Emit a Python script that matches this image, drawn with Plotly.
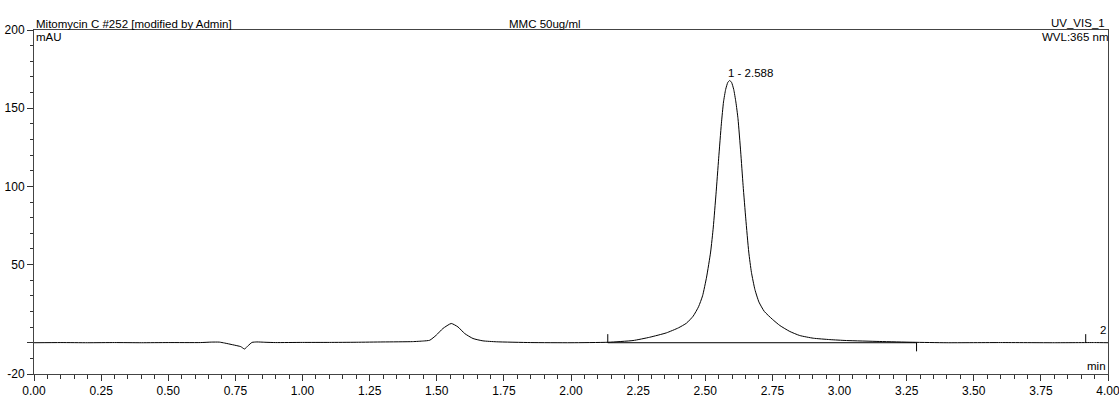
import plotly.graph_objects as go

# ---- data ----
time_min = [0.00, 0.10, 0.20, 0.30, 0.40, 0.50, 0.62, 0.66, 0.69, 0.71, 0.74, 0.77, 0.784,
            0.798, 0.812, 0.83, 0.86, 0.90, 1.00, 1.10, 1.20, 1.30, 1.41, 1.45, 1.474, 1.498,
            1.523, 1.554, 1.579, 1.604, 1.635, 1.672, 1.722, 1.85, 2.00, 2.138, 2.231,
            2.293, 2.355, 2.400, 2.430, 2.455, 2.475, 2.490, 2.505, 2.520, 2.530, 2.540,
            2.550, 2.560, 2.568, 2.576, 2.584, 2.591, 2.598, 2.606, 2.614, 2.622, 2.632,
            2.641, 2.651, 2.662, 2.672, 2.685, 2.700, 2.720, 2.750, 2.778, 2.815, 2.852,
            2.902, 2.964, 3.026, 3.150, 3.273, 3.40, 3.60, 3.80, 3.95, 4.00]
signal_mau = [0.0, 0.1, 0.0, 0.1, 0.0, 0.1, 0.1, 0.4, 0.4, -0.2, -1.3, -2.5, -4.0,
              -1.8, 0.2, 0.5, 0.3, 0.1, 0.2, 0.2, 0.3, 0.5, 0.7, 1.1, 1.6, 4.8,
              9.1, 12.3, 10.1, 5.9, 2.7, 1.2, 0.6, 0.1, 0.0, 0.3, 1.4,
              3.5, 6.3, 9.5, 12.5, 17.0, 23.0, 30.0, 42.0, 58.0, 74.0, 95.0,
              118.0, 140.0, 154.0, 162.0, 166.5, 167.7, 166.5, 162.0, 154.0, 143.2, 122.0,
              100.5, 79.2, 58.0, 45.0, 34.0, 26.0, 20.0, 15.0, 11.0, 7.2, 4.6,
              2.9, 2.0, 1.4, 0.8, 0.3, 0.0, 0.1, 0.0, 0.1, 0.0]

peak_number = [1]
peak_rt = [2.588]
peak_height = [167.7]
delimiter_t = [2.137, 3.287, 3.917]
delimiter_dir = [1, -1, 1]
baseline_t = [2.137, 3.287]
baseline_v = [0.0, 0.0]

x_tickvals = [i * 0.25 for i in range(17)]
y_tickvals = [-20, 0, 50, 100, 150, 200]
y_ticktext = ["-20", "", "50", "100", "150", "200"]

FONT = "Liberation Sans, Arial, sans-serif"
fs_tick = 12
fs_text = 11.5

fig = go.Figure()
fig.add_trace(go.Scatter(x=time_min, y=signal_mau, mode="lines",
                         line=dict(color="black", width=1, shape="spline", smoothing=0.5),
                         hoverinfo="skip", showlegend=False))
fig.add_trace(go.Scatter(x=baseline_t, y=baseline_v, mode="lines",
                         line=dict(color="black", width=1), showlegend=False, hoverinfo="skip"))
dx, dy = [], []
for t, d in zip(delimiter_t, delimiter_dir):
    dx += [t, t, None]
    dy += [0, 5.5 * d, None]
fig.add_trace(go.Scatter(x=dx, y=dy, mode="lines", line=dict(color="black", width=1),
                         showlegend=False, hoverinfo="skip"))

tf = dict(family=FONT, size=fs_text, color="black")
annots = []
for n, rt, h in zip(peak_number, peak_rt, peak_height):
    annots.append(dict(x=rt, y=h, xref="x", yref="y", text=f"{n} - {rt:.3f}", font=tf,
                       showarrow=False, xanchor="left", yanchor="bottom", xshift=-3, yshift=0))
annots += [
    dict(x=0, y=1, xref="paper", yref="paper", text="Mitomycin C #252 [modified by Admin]",
         font=tf, showarrow=False, xanchor="left", yanchor="bottom", xshift=0, yshift=-2),
    dict(x=0.4758, y=1, xref="paper", yref="paper", text="MMC 50ug/ml", font=tf,
         showarrow=False, xanchor="center", yanchor="bottom", yshift=-2),
    dict(x=1, y=1, xref="paper", yref="paper", text="UV_VIS_1", font=tf,
         showarrow=False, xanchor="right", yanchor="bottom", xshift=-1, yshift=-1),
    dict(x=0, y=1, xref="paper", yref="paper", text="mAU", font=tf,
         showarrow=False, xanchor="left", yanchor="top", xshift=0, yshift=1),
    dict(x=1, y=1, xref="paper", yref="paper", text="WVL:365 nm", font=tf,
         showarrow=False, xanchor="right", yanchor="top", xshift=2, yshift=1),
    dict(x=1, y=0, xref="paper", yref="paper", text="min", font=tf,
         showarrow=False, xanchor="right", yanchor="bottom", xshift=0, yshift=0),
    dict(x=1, y=3, xref="paper", yref="y", text="2", font=tf,
         showarrow=False, xanchor="right", yanchor="bottom", xshift=0, yshift=0),
]

fig.update_layout(
    width=1119, height=401, autosize=False,
    margin=dict(l=34, r=11, t=30, b=27, pad=0),
    paper_bgcolor="white", plot_bgcolor="white",
    font=dict(family=FONT, size=fs_tick, color="black"),
    annotations=annots,
    showlegend=False,
    xaxis=dict(range=[0, 4], tickvals=x_tickvals, tickformat=".2f",
               ticks="outside", ticklen=6, tickwidth=1, tickcolor="#333",
               showline=True, linecolor="#444", linewidth=1, mirror=True,
               showgrid=False, zeroline=False, automargin=False,
               ticklabeloverflow="allow",
               minor=dict(dtick=0.05, tick0=0, ticks="outside", ticklen=4,
                          tickcolor="#333", showgrid=False),
               tickfont=dict(family=FONT, size=fs_tick)),
    yaxis=dict(range=[-20, 200], tickmode="array", tickvals=y_tickvals, ticktext=y_ticktext,
               ticks="outside", ticklen=6, tickwidth=1, tickcolor="#333",
               showline=True, linecolor="#444", linewidth=1, mirror=True,
               showgrid=False, zeroline=False, ticklabelstandoff=0, automargin=False,
               ticklabeloverflow="allow",
               minor=dict(dtick=10, tick0=0, ticks="outside", ticklen=3,
                          tickcolor="#333", showgrid=False),
               tickfont=dict(family=FONT, size=fs_tick)),
)

fig.write_html("out.html")
